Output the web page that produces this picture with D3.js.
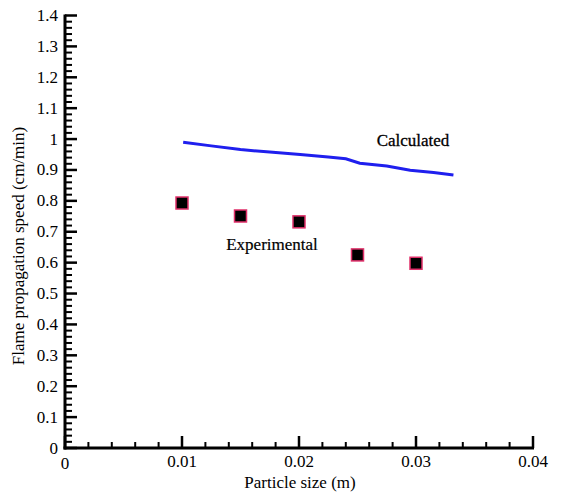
<!DOCTYPE html>
<html><head><meta charset="utf-8">
<script src="https://cdn.jsdelivr.net/npm/d3@7"></script>
<style>
body{margin:0;background:#fff;}
text{font-family:"Liberation Serif","Times New Roman",serif;fill:#000;}
</style></head>
<body><svg id="c" width="571" height="496"></svg>
<script>
// Data
const calcX = [0.0101, 0.0125, 0.0150, 0.0175, 0.0201, 0.0225, 0.0240, 0.0252, 0.0275, 0.0295, 0.0315, 0.0332];
const calcY = [0.990, 0.978, 0.966, 0.958, 0.950, 0.942, 0.936, 0.922, 0.913, 0.899, 0.892, 0.884];
const expX = [0.010, 0.015, 0.020, 0.025, 0.030];
const expY = [0.793, 0.751, 0.732, 0.625, 0.598];
const xTicks = [0, 0.01, 0.02, 0.03, 0.04];
const yTicks = [0, 0.1, 0.2, 0.3, 0.4, 0.5, 0.6, 0.7, 0.8, 0.9, 1, 1.1, 1.2, 1.3, 1.4];
const xTitle = "Particle size (m)";
const yTitle = "Flame propagation speed (cm/min)";
const seriesLabels = ["Calculated", "Experimental"];

const svg = d3.select("#c");
const x = d3.scaleLinear().domain([0, 0.04]).range([65, 533]);
const y = d3.scaleLinear().domain([0, 1.4]).range([448, 15.5]);

const xMinor = d3.range(0, 0.0401, 0.002).filter(v => !xTicks.some(t => Math.abs(t - v) < 1e-9));
const yMinor = d3.range(0, 1.401, 0.02).filter(v => !yTicks.some(t => Math.abs(t - v) < 1e-9));

const g = svg.append("g");
g.selectAll(".xmin").data(xMinor).join("line")
  .attr("x1", d => x(d)).attr("x2", d => x(d)).attr("y1", 448).attr("y2", 442)
  .attr("stroke", "#000").attr("stroke-width", 2);
g.selectAll(".xmaj").data(xTicks).join("line")
  .attr("x1", d => x(d)).attr("x2", d => x(d)).attr("y1", 448).attr("y2", 436)
  .attr("stroke", "#000").attr("stroke-width", 2.5);
g.selectAll(".ymin").data(yMinor).join("line")
  .attr("x1", 65).attr("x2", 72).attr("y1", d => y(d)).attr("y2", d => y(d))
  .attr("stroke", "#000").attr("stroke-width", 2);
g.selectAll(".ymaj").data(yTicks).join("line")
  .attr("x1", 65).attr("x2", 77).attr("y1", d => y(d)).attr("y2", d => y(d))
  .attr("stroke", "#000").attr("stroke-width", 2.5);

g.append("line").attr("x1", 65).attr("x2", 65).attr("y1", y(1.4) - 1).attr("y2", 449.5)
  .attr("stroke", "#000").attr("stroke-width", 3);
g.append("line").attr("x1", 63.5).attr("x2", x(0.04) + 1).attr("y1", 448).attr("y2", 448)
  .attr("stroke", "#000").attr("stroke-width", 3);

g.selectAll(".xl").data(xTicks).join("text")
  .attr("x", d => x(d)).attr("y", d => d === 0 ? 469 : 467)
  .attr("text-anchor", "middle").attr("font-size", 17)
  .text(d => d === 0 ? "0" : d3.format(".2f")(d));
g.selectAll(".yl").data(yTicks).join("text")
  .attr("x", 58).attr("y", d => y(d) + 5.5)
  .attr("text-anchor", "end").attr("font-size", 17)
  .text(d => d3.format("")(d));

svg.append("text").attr("x", 300).attr("y", 488).attr("text-anchor", "middle")
  .attr("font-size", 17).text(xTitle);
svg.append("text").attr("transform", "translate(24,246) rotate(-90)").attr("text-anchor", "middle")
  .attr("font-size", 17).text(yTitle);

const line = d3.line().x((d, i) => x(calcX[i])).y(d => y(d));
svg.append("path").datum(calcY).attr("d", line).attr("fill", "none")
  .attr("stroke", "#1f1fee").attr("stroke-width", 3);

const s = 12;
svg.selectAll(".sq").data(expY).join("rect")
  .attr("x", (d, i) => x(expX[i]) - s / 2).attr("y", d => y(d) - s / 2)
  .attr("width", s).attr("height", s)
  .attr("fill", "#000").attr("stroke", "#e0306a").attr("stroke-width", 1.5);

svg.append("text").attr("x", 413).attr("y", 146).attr("text-anchor", "middle")
  .attr("font-size", 17).attr("stroke", "#000").attr("stroke-width", 0.3).text(seriesLabels[0]);
svg.append("text").attr("x", 272).attr("y", 250).attr("text-anchor", "middle")
  .attr("font-size", 17).attr("stroke", "#000").attr("stroke-width", 0.2).text(seriesLabels[1]);
</script></body></html>
